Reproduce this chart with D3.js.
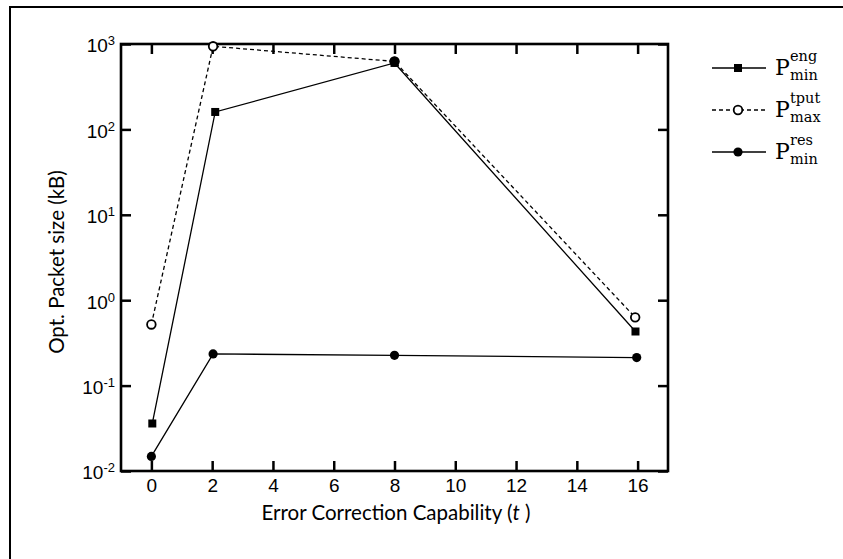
<!DOCTYPE html>
<html><head><meta charset="utf-8">
<script src="https://cdn.jsdelivr.net/npm/d3@7/dist/d3.min.js"></script>
<style>body{margin:0;background:#fff}svg{display:block}</style>
</head><body><svg id="c" width="843" height="559"></svg>
<script>
// Data
const xTicks = [0, 2, 4, 6, 8, 10, 12, 14, 16];
const yTickExps = [-2, -1, 0, 1, 2, 3];
const engT = [0.03, 2.1, 8, 15.93];
const engV = [0.036, 160, 600, 0.43];
const tputT = [0, 2.03, 8, 15.92];
const tputV = [0.52, 940, 625, 0.63];
const resT = [0, 2.03, 8, 15.97];
const resV = [0.0148, 0.235, 0.226, 0.213];
const legendSup = ["eng", "tput", "res"];
const legendSub = ["min", "max", "min"];

const svg = d3.select("#c");
const L = 121, R = 668, T = 44, B = 471;
const x = d3.scaleLinear().domain([-1, 17]).range([L, R]);
const y = d3.scaleLog().domain([0.01, 1000]).range([B, T]);

// outer frame
svg.append("rect").attr("x", 10).attr("y", 7).attr("width", 860).attr("height", 600)
  .attr("fill", "none").attr("stroke", "#000").attr("stroke-width", 2);

const tickFont = "'Liberation Sans Narrow','Liberation Sans',Arial,sans-serif";
const yTicks = yTickExps.map(e => Math.pow(10, e));

// axes with inward ticks
const gB = svg.append("g").attr("transform", `translate(0,${B})`)
  .call(d3.axisBottom(x).tickValues(xTicks).tickSize(-10).tickSizeOuter(0).tickPadding(8).tickFormat(d3.format("d")));
const gT = svg.append("g").attr("transform", `translate(0,${T})`)
  .call(d3.axisTop(x).tickValues(xTicks).tickSize(-10).tickSizeOuter(0).tickFormat(""));
const gL = svg.append("g").attr("transform", `translate(${L},0)`)
  .call(d3.axisLeft(y).tickValues(yTicks).tickSize(-10).tickSizeOuter(0).tickFormat(""));
const gR = svg.append("g").attr("transform", `translate(${R},0)`)
  .call(d3.axisRight(y).tickValues(yTicks).tickSize(-10).tickSizeOuter(0).tickFormat(""));
[gB, gT, gL, gR].forEach(g => {
  g.select(".domain").remove();
  g.selectAll(".tick line").attr("stroke", "#000").attr("stroke-width", 2.5);
});
gB.selectAll(".tick text").attr("font-family", tickFont).attr("font-size", 19).attr("fill", "#000");

// y tick labels with superscripts
gL.selectAll(".tick").each(function(d) {
  const t = d3.select(this).select("text");
  t.attr("font-family", tickFont).attr("font-size", 19).attr("fill", "#000")
   .attr("x", -6).attr("dy", "0.42em").attr("text-anchor", "end");
  t.append("tspan").text("10");
  t.append("tspan").attr("font-size", 13).attr("dy", "-0.55em").text(Math.round(Math.log10(d)));
});

// plot frame
svg.append("rect").attr("x", L).attr("y", T).attr("width", R - L).attr("height", B - T)
  .attr("fill", "none").attr("stroke", "#000").attr("stroke-width", 2.6);

// lines
const line = (ts, vs) => d3.line().x((d, i) => x(ts[i])).y(d => y(d))(vs);
svg.append("path").attr("d", line(tputT, tputV)).attr("fill", "none").attr("stroke", "#000")
  .attr("stroke-width", 1.3).attr("stroke-dasharray", "4,3");
svg.append("path").attr("d", line(engT, engV)).attr("fill", "none").attr("stroke", "#000").attr("stroke-width", 1.3);
svg.append("path").attr("d", line(resT, resV)).attr("fill", "none").attr("stroke", "#000").attr("stroke-width", 1.3);

// markers
svg.selectAll(".sq").data(engV).enter().append("rect")
  .attr("x", (d, i) => x(engT[i]) - 4).attr("y", d => y(d) - 4).attr("width", 8).attr("height", 8).attr("fill", "#000");
svg.selectAll(".oc").data(tputV).enter().append("circle")
  .attr("cx", (d, i) => x(tputT[i])).attr("cy", d => y(d)).attr("r", 4.3)
  .attr("fill", "#fff").attr("stroke", "#000").attr("stroke-width", 1.8);
svg.selectAll(".fc").data(resV).enter().append("circle")
  .attr("cx", (d, i) => x(resT[i])).attr("cy", d => y(d)).attr("r", 4.6).attr("fill", "#000");
// the overlapping point at t=8 appears as a filled blob in the reference
svg.append("circle").attr("cx", x(tputT[2])).attr("cy", y(tputV[2])).attr("r", 4.8).attr("fill", "#000");

// axis titles
const titleFont = "Lato,'Open Sans',sans-serif";
const xt = svg.append("text").attr("x", 396).attr("y", 520).attr("text-anchor", "middle")
  .attr("font-family", titleFont).attr("font-size", 20.5).attr("fill", "#000");
xt.append("tspan").text("Error Correction Capability (");
xt.append("tspan").attr("font-style", "italic").text("t");
xt.append("tspan").text(" )");
svg.append("text").attr("transform", "translate(64,262) rotate(-90)").attr("text-anchor", "middle")
  .attr("font-family", titleFont).attr("font-size", 20.5).attr("fill", "#000").text("Opt. Packet size (kB)");

// legend
const serif = "'DejaVu Serif','Liberation Serif',serif";
const rows = [68, 110, 152];
rows.forEach((ry, i) => {
  const g = svg.append("g");
  g.append("line").attr("x1", 712).attr("x2", 766).attr("y1", ry).attr("y2", ry)
    .attr("stroke", "#000").attr("stroke-width", 1.3).attr("stroke-dasharray", i === 1 ? "4,3" : null);
  if (i === 0) g.append("rect").attr("x", 734).attr("y", ry - 4).attr("width", 8).attr("height", 8).attr("fill", "#000");
  if (i === 1) g.append("circle").attr("cx", 738).attr("cy", ry).attr("r", 4.3).attr("fill", "#fff").attr("stroke", "#000").attr("stroke-width", 1.8);
  if (i === 2) g.append("circle").attr("cx", 738).attr("cy", ry).attr("r", 4.6).attr("fill", "#000");
  g.append("text").attr("x", 775).attr("y", ry + 7).attr("font-family", serif).attr("font-size", 22).attr("fill", "#000").text("P");
  g.append("text").attr("x", 790).attr("y", ry - 7).attr("font-family", serif).attr("font-size", 14.5).attr("fill", "#000").text(legendSup[i]);
  g.append("text").attr("x", 790).attr("y", ry + 12).attr("font-family", serif).attr("font-size", 14.5).attr("fill", "#000").text(legendSub[i]);
});
</script></body></html>
